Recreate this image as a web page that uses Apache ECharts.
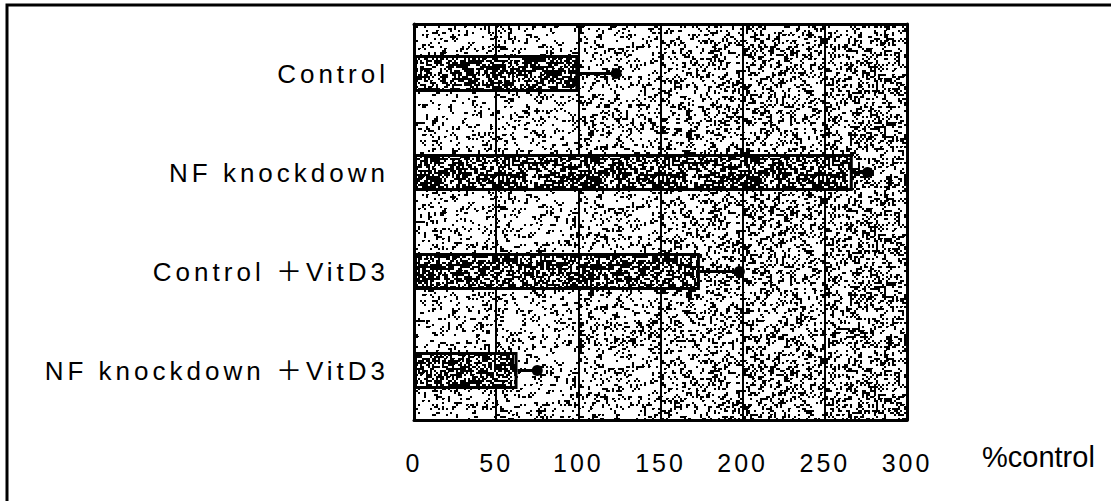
<!DOCTYPE html>
<html><head><meta charset="utf-8">
<script src="https://cdn.jsdelivr.net/npm/echarts@6/dist/echarts.min.js"></script>
<style>
html,body{margin:0;padding:0;background:#fff;}
#chart{width:1111px;height:501px;}
#chart text[style*="26px"]{letter-spacing:4px;}
#chart text[style*="25px"]{letter-spacing:3px;}
</style></head><body><div id="chart"></div>
<script>
// ---- data ----
const categories = ['Control', 'NF knockdown', 'Control \uFF0BVitD3', 'NF knockdown \uFF0BVitD3'];
const barValues = [100, 267, 174, 63];
const errorUpper = [123, 276, 198, 75];
const xTicks = [0, 50, 100, 150, 200, 250, 300];
const axisName = '%control';

// ---- stipple texture (deterministic hash, decoration only) ----
function hash(x, y, s) {
  let n = Math.imul(x, 374761393) ^ Math.imul(y, 668265263) ^ Math.imul(s, 982451653);
  n = Math.imul(n ^ (n >>> 13), 1274126177);
  n = n ^ (n >>> 16);
  return (n >>> 0) / 4294967296;
}
function speckle(density, seed) {
  const size = 160;
  const c = document.createElement('canvas');
  c.width = size; c.height = size;
  const ctx = c.getContext('2d');
  ctx.fillStyle = '#fff'; ctx.fillRect(0, 0, size, size);
  ctx.fillStyle = '#000';
  for (let y = 0; y < size; y += 2) {
    for (let x = 0; x < size; x += 2) {
      if (hash(x, y, seed) < density) {
        ctx.fillRect(x, y, 2, 2);
        const s = hash(y + 11, x + 5, seed + 7);
        if (s < 0.15) ctx.fillRect(x + 2, y, 2, 2);
        else if (s < 0.3) ctx.fillRect(x, y + 2, 2, 2);
        else if (s < 0.4) ctx.fillRect(x + 2, y + 2, 2, 2);
        else if (s < 0.5) ctx.fillRect(x - 2, y + 2, 2, 2);
        else if (s < 0.6) ctx.fillRect(x + 2, y, 1, 1);
      }
    }
  }
  return { image: c, repeat: 'repeat', imageWidth: size, imageHeight: size };
}
const bgDensity = [0.11, 0.12, 0.17, 0.2, 0.23, 0.24];
const bgPatterns = bgDensity.map((d, i) => speckle(d, 17 + i * 31));
const barPattern = speckle(0.5, 999);

const labelFont = "'Liberation Sans', 'Noto Sans CJK JP', sans-serif";
const chart = echarts.init(document.getElementById('chart'), null, { renderer: 'svg' });
const errData = categories.map((c, i) => [barValues[i], errorUpper[i], i]);

chart.setOption({
  animation: false,
  backgroundColor: '#fff',
  grid: { left: 414, right: 204, top: 24, bottom: 81 },
  xAxis: [{
    type: 'value',
    min: xTicks[0], max: xTicks[xTicks.length - 1], interval: 50,
    position: 'bottom',
    axisLine: { show: true, onZero: false, lineStyle: { color: '#000', width: 3 } },
    axisTick: { show: false },
    axisLabel: { show: true, margin: 30, color: '#000', fontSize: 25, fontFamily: labelFont },
    splitLine: { show: true, lineStyle: { color: '#000', width: 2 } },
    splitArea: { show: true, areaStyle: { color: bgPatterns } }
  }, {
    type: 'value',
    min: xTicks[0], max: xTicks[xTicks.length - 1], interval: 50,
    position: 'top', z: 1,
    axisLine: { show: true, onZero: false, lineStyle: { color: '#000', width: 3 } },
    axisTick: { show: false }, axisLabel: { show: false },
    splitLine: { show: false }, splitArea: { show: false }
  }],
  yAxis: [{
    type: 'category', data: categories, inverse: true, z: 1,
    axisLine: { show: true, onZero: false, lineStyle: { color: '#000', width: 3 } },
    axisTick: { show: true, inside: true, length: 11, lineStyle: { color: '#000', width: 2 } },
    axisLabel: { margin: 25, color: '#000', fontSize: 26, fontFamily: labelFont },
    splitLine: { show: false }
  }, {
    type: 'category', data: categories, inverse: true, position: 'right', z: 1,
    axisLine: { show: true, onZero: false, lineStyle: { color: '#000', width: 3 } },
    axisTick: { show: false }, axisLabel: { show: false }, splitLine: { show: false }
  }],
  series: [{
    type: 'bar', data: barValues, xAxisIndex: 0, yAxisIndex: 0,
    barWidth: 37, z: 3,
    itemStyle: { color: barPattern, borderColor: '#000', borderWidth: 3 }
  }, {
    type: 'custom', data: errData, xAxisIndex: 0, yAxisIndex: 0, z: 4,
    encode: { x: [0, 1], y: 2 },
    renderItem: function (params, api) {
      const s = api.coord([api.value(0), api.value(2)]);
      const e = api.coord([api.value(1), api.value(2)]);
      return {
        type: 'group', children: [
          { type: 'line', shape: { x1: s[0], y1: s[1], x2: e[0], y2: e[1] }, style: { stroke: '#000', lineWidth: 3 } },
          { type: 'circle', shape: { cx: e[0], cy: e[1], r: 5.5 }, style: { fill: '#000' } }
        ]
      };
    }
  }],
  graphic: [
    { type: 'rect', shape: { x: 7, y: 5, width: 1300, height: 700 }, style: { fill: 'none', stroke: '#000', lineWidth: 3 }, z: 10 },
    { type: 'text', x: 982, y: 457, style: { text: axisName, font: '29px "Liberation Sans"', fill: '#000', verticalAlign: 'middle', textVerticalAlign: 'middle' }, z: 10 }
  ]
});
</script></body></html>
